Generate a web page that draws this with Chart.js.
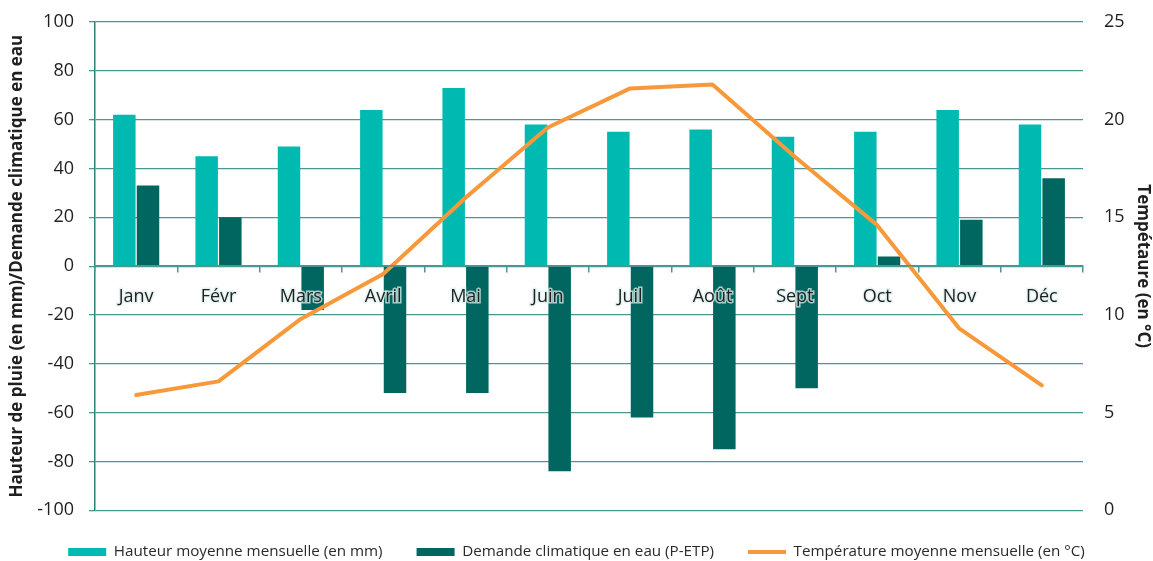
<!DOCTYPE html>
<html>
<head>
<meta charset="utf-8">
<script src="https://cdn.jsdelivr.net/npm/chart.js@4.4.1/dist/chart.umd.min.js"></script>
<style>
html,body{margin:0;padding:0;background:#ffffff;}
#wrap{width:1153px;height:561px;position:relative;}
</style>
</head>
<body>
<div id="wrap"><canvas id="c"></canvas></div>
<script>
const months = ['Janv','Févr','Mars','Avril','Mai','Juin','Juil','Août','Sept','Oct','Nov','Déc'];
const rainfall = [62, 45, 49, 64, 73, 58, 55, 56, 53, 55, 64, 58];
const waterDemand = [33, 20, -18, -52, -52, -84, -62, -75, -50, 4, 19, 36];
const temperature = [5.9, 6.6, 9.8, 12.1, 16.0, 19.6, 21.6, 21.8, 18.1, 14.6, 9.3, 6.4];

const seriesNames = ['Hauteur moyenne mensuelle (en mm)', 'Demande climatique en eau (P-ETP)', 'Température moyenne mensuelle (en °C)'];
const leftTitle = 'Hauteur de pluie (en mm)/Demande climatique en eau';
const rightTitle = 'Tempétaure (en °C)';

const TEAL = '#00B9B1';
const DARK = '#00665F';
const ORANGE = '#F7993A';
const GRID = '#4A9896';
const AXIS = '#2F807C';
const TEXT = '#1f1f1f';

Chart.defaults.font.family = "'Open Sans', 'Noto Sans', sans-serif";
Chart.defaults.color = TEXT;

new Chart(document.getElementById('c'), {
  data: {
    labels: months,
    datasets: [
      { type: 'bar', label: seriesNames[0], data: rainfall, backgroundColor: TEAL, borderWidth: 0,
        pointStyle: 'rect', yAxisID: 'y', barPercentage: 0.95, categoryPercentage: 0.575, order: 1 },
      { type: 'bar', label: seriesNames[1], data: waterDemand, backgroundColor: DARK, borderWidth: 0,
        pointStyle: 'rect', yAxisID: 'y', barPercentage: 0.95, categoryPercentage: 0.575, order: 1 },
      { type: 'line', label: seriesNames[2], data: temperature, borderColor: ORANGE, backgroundColor: ORANGE,
        borderWidth: 4, pointRadius: 0, pointHoverRadius: 0, tension: 0, pointStyle: 'line',
        borderCapStyle: 'round', borderJoinStyle: 'round', yAxisID: 'y1', order: -1 }
    ]
  },
  options: {
    responsive: true,
    maintainAspectRatio: false,
    animation: false,
    devicePixelRatio: 1,
    layout: { padding: { left: 0, right: 0, top: 22, bottom: -8.5 } },
    plugins: {
      tooltip: { enabled: false },
      legend: {
        position: 'bottom',
        labels: {
          usePointStyle: true,
          pointStyleWidth: 38,
          boxHeight: 8,
          padding: 34,
          color: '#2a2a2a',
          font: { size: 15.2 },
          sort: (a, b) => a.datasetIndex - b.datasetIndex
        }
      }
    },
    scales: {
      x: {
        position: { y: 0 },
        offset: true,
        grid: { offset: true, drawOnChartArea: false, drawTicks: true, tickLength: 6, color: GRID, lineWidth: 1.5, z: 1 },
        border: { display: true, color: GRID, width: 1.5, z: 1 },
        ticks: { font: { size: 18 }, color: TEXT, padding: 14, maxRotation: 0, autoSkip: false, z: 1,
                 textStrokeColor: 'rgba(220,240,238,0.75)', textStrokeWidth: 3 },
        afterFit: (s) => { s.height = 0; }
      },
      y: {
        position: 'left',
        min: -100, max: 100,
        ticks: { stepSize: 20, font: { size: 18 }, color: TEXT, padding: 15 },
        grid: { color: GRID, lineWidth: 1.3, drawTicks: true, tickLength: 6 },
        border: { display: true, color: AXIS, width: 1.5 },
        title: { display: true, text: leftTitle, font: { size: 17, weight: 'bold' }, color: TEXT, padding: { top: 7, bottom: 0 } },
        afterFit: (s) => { s.width = 95; s.paddingTop = 11; s.paddingBottom = 11; }
      },
      y1: {
        position: 'right',
        min: 0, max: 25,
        ticks: { stepSize: 5, font: { size: 18 }, color: TEXT, padding: 21 },
        grid: { display: false, drawTicks: false },
        border: { display: false },
        title: { display: true, text: rightTitle, font: { size: 17, weight: 'bold' }, color: TEXT, padding: { top: 0, bottom: 0 } },
        afterFit: (s) => { s.width = 70; s.paddingTop = 11; s.paddingBottom = 11; }
      }
    }
  }
});
</script>
</body>
</html>
